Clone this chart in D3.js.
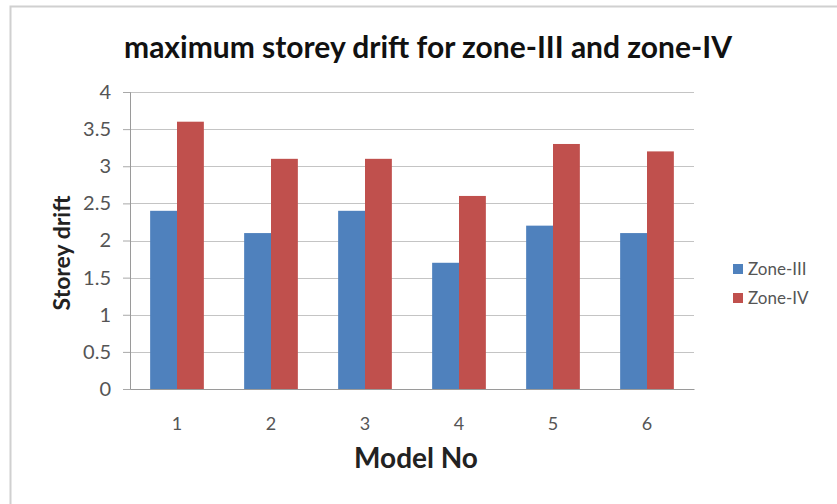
<!DOCTYPE html>
<html>
<head>
<meta charset="utf-8">
<script src="https://cdn.jsdelivr.net/npm/d3@7/dist/d3.min.js"></script>
<style>
  html, body { margin: 0; padding: 0; background: #fff; }
  svg { display: block; }
  text { font-family: Lato, "Open Sans", sans-serif; }
</style>
</head>
<body>
<svg id="chart" width="837" height="504"></svg>
<script>
// Maximum storey drift per model for two seismic zones
const models = ["1", "2", "3", "4", "5", "6"];
const zone3 = [2.4, 2.1, 2.4, 1.7, 2.2, 2.1];
const zone4 = [3.6, 3.1, 3.1, 2.6, 3.3, 3.2];
const seriesNames = ["Zone-III", "Zone-IV"];
const seriesColors = ["#4F81BD", "#C0504D"];
const yTicks = [0, 0.5, 1, 1.5, 2, 2.5, 3, 3.5, 4];

const svg = d3.select("#chart");
const plot = { left: 130, right: 694, top: 92, bottom: 389 };

// outer chart frame
svg.append("rect")
  .attr("x", 10.5).attr("y", 6.5)
  .attr("width", 860).attr("height", 520)
  .attr("fill", "#fff").attr("stroke", "#d0d0d0").attr("stroke-width", 2);

const x = d3.scaleBand().domain(models).range([plot.left, plot.right]).paddingInner(0).paddingOuter(0);
const y = d3.scaleLinear().domain([0, 4]).range([plot.bottom, plot.top]);

// bar width: two bars plus a 150% gap per category
const bw = x.bandwidth() / 3.5;
const inner = d3.scaleBand().domain(seriesNames).range([x.bandwidth() / 2 - bw, x.bandwidth() / 2 + bw]);

// gridlines
svg.append("g")
  .selectAll("line")
  .data(yTicks.filter(d => d > 0))
  .join("line")
  .attr("x1", plot.left).attr("x2", plot.right)
  .attr("y1", d => Math.round(y(d)) + 0.5).attr("y2", d => Math.round(y(d)) + 0.5)
  .attr("stroke", "#c4c4c4").attr("stroke-width", 1.2);

// y axis
const yAxis = svg.append("g")
  .attr("transform", `translate(${plot.left},0)`)
  .call(d3.axisLeft(y).tickValues(yTicks).tickSize(7).tickPadding(12).tickFormat(d3.format("")));
yAxis.select(".domain").attr("stroke", "#9a9a9a");
yAxis.selectAll(".tick line").attr("stroke", "#a8a8a8");
yAxis.selectAll("text").attr("font-size", 20).attr("fill", "#555").attr("font-family", "Lato, sans-serif");

// bars
const rows = models.map((m, i) => ({ model: m, values: [zone3[i], zone4[i]] }));
const groups = svg.append("g").selectAll("g")
  .data(rows).join("g")
  .attr("transform", d => `translate(${x(d.model)},0)`);
groups.selectAll("rect")
  .data(d => d.values.map((v, k) => ({ name: seriesNames[k], value: v, color: seriesColors[k] })))
  .join("rect")
  .attr("x", d => inner(d.name))
  .attr("width", inner.bandwidth())
  .attr("y", d => y(d.value))
  .attr("height", d => y(0) - y(d.value))
  .attr("fill", d => d.color);

// x axis
const xAxis = svg.append("g")
  .attr("transform", `translate(0,${plot.bottom})`)
  .call(d3.axisBottom(x).tickSize(0).tickPadding(28));
xAxis.select(".domain").attr("stroke", "#9a9a9a");
xAxis.selectAll("text").attr("font-size", 18).attr("fill", "#555").attr("font-family", "Lato, sans-serif");

// title
svg.append("text")
  .attr("x", 428).attr("y", 58)
  .attr("text-anchor", "middle")
  .attr("font-size", 30).attr("font-weight", "bold").attr("fill", "#111")
  .text("maximum storey drift for zone-III and zone-IV");

// axis titles
svg.append("text")
  .attr("x", 416).attr("y", 468)
  .attr("text-anchor", "middle")
  .attr("font-size", 28).attr("font-weight", "bold").attr("fill", "#222")
  .text("Model No");
svg.append("text")
  .attr("transform", "translate(70,253) rotate(-90)")
  .attr("text-anchor", "middle")
  .attr("font-size", 23).attr("font-weight", "bold").attr("fill", "#222")
  .text("Storey drift");

// legend
const legend = svg.append("g").attr("transform", "translate(733,269)");
seriesNames.forEach((name, k) => {
  const g = legend.append("g").attr("transform", `translate(0,${k * 29})`);
  g.append("rect").attr("x", 0).attr("y", -5).attr("width", 10).attr("height", 10).attr("fill", seriesColors[k]);
  g.append("text").attr("x", 15).attr("y", 6)
    .attr("font-size", 17).attr("fill", "#555")
    .text(name);
});
</script>
</body>
</html>
